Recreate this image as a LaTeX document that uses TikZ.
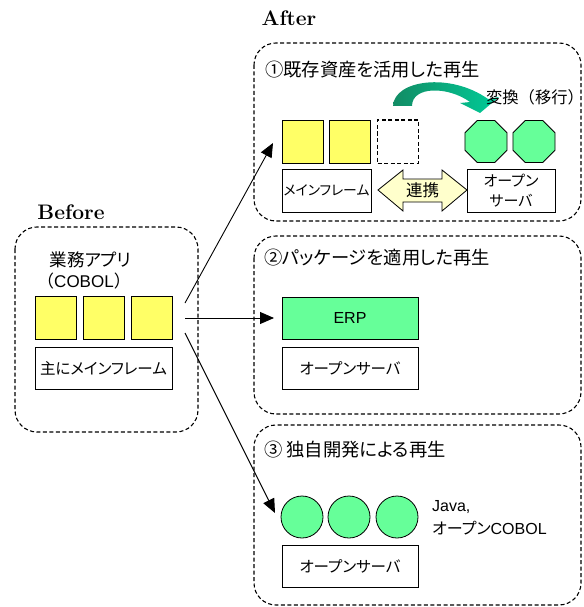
\documentclass[tikz,border=0pt]{standalone}
\usepackage{fontspec}
\usetikzlibrary{shapes.geometric,arrows.meta,shadings}
\newfontfamily\jp[RawFeature=+palt]{Noto Sans CJK JP}
\newfontfamily\jpf{Noto Sans CJK JP}
\newfontfamily\lat{Liberation Sans}
\definecolor{yel}{HTML}{FFFF66}
\definecolor{grn}{HTML}{66FF99}
\definecolor{pale}{HTML}{FFFFCC}
\definecolor{tealdk}{RGB}{18,140,100}
\definecolor{tealbr}{RGB}{0,204,153}
\tikzset{
  grp/.style={draw, line width=1.1pt, dash pattern=on 4pt off 2.5pt, rounded corners=22pt},
  ysq/.style={draw, line width=0.8pt, fill=yel, minimum width=41pt, minimum height=43pt, inner sep=0pt},
  dsq/.style={draw, line width=1pt, dash pattern=on 4pt off 2.5pt, minimum width=41pt, minimum height=43pt, inner sep=0pt},
  oct/.style={draw, line width=0.8pt, fill=grn, regular polygon, regular polygon sides=8, minimum size=45.5pt, inner sep=0pt},
  circ/.style={draw, line width=0.8pt, fill=grn, circle, minimum size=42pt, inner sep=0pt},
  wbox/.style={draw, line width=0.8pt, fill=white, inner sep=0pt, align=center, font=\jp\fontsize{15.5}{18}\selectfont},
  title/.style={font=\jp\fontsize{18.3}{21}\selectfont, inner sep=0pt, anchor=west},
  lbl/.style={font=\bfseries\fontsize{21}{24}\selectfont, inner sep=0pt},
  arr/.style={line width=0.9pt, -{Triangle[length=14pt,width=12pt]}},
}
\begin{document}
\begin{tikzpicture}[x=1pt,y=-1pt]
\useasboundingbox (0,0) rectangle (583,607);
% group frames
\draw[grp] (15,227) rectangle (198,432);
\draw[grp] (254,43) rectangle (581,221);
\draw[grp] (254,236) rectangle (581,414);
\draw[grp] (254,425) rectangle (581,605);
\node[lbl] (before) at (71,212) {Before};
\node[lbl] (after) at (289,18) {After};
% Before contents
\node[font=\jp\fontsize{17.5}{20}\selectfont, inner sep=0pt] (app) at (90.5,260) {業務アプリ};
\node[inner sep=0pt] (cobol) at (84,281) {\jpf\fontsize{17}{20}\selectfont （\lat COBOL\jpf ）};
\node[ysq] (b1) at (55.5,318) {};
\node[ysq] (b2) at (103.5,318) {};
\node[ysq] (b3) at (151.5,318) {};
\node[wbox, minimum width=137pt, minimum height=42pt] (bm) at (103.5,368) {主にメインフレーム};
% Box 1
\node[title] (t1) at (265,70) {①既存資産を活用した再生};
\node[ysq] (y1) at (302.5,141.5) {};
\node[ysq] (y2) at (349.5,141.5) {};
\node[dsq] (y3) at (398,141.5) {};
\node[oct] (o1) at (486,141.5) {};
\node[oct] (o2) at (534,141.5) {};
\node[wbox, minimum width=89pt, minimum height=43pt, font=\jp\fontsize{13.8}{17}\selectfont] (m1) at (326.5,190.5) {メインフレーム};
\node[wbox, minimum width=88pt, minimum height=43pt, font=\jp\fontsize{15}{19.5}\selectfont] (s1) at (511,190.5) {オープン\\サーバ};
\draw[line width=0.8pt, fill=pale] (378,190) -- (403,170) -- (403,179) -- (442,179) -- (442,170) -- (467,190) -- (442,211) -- (442,202) -- (403,202) -- (403,211) -- cycle;
\node[font=\jp\fontsize{16.5}{19}\selectfont, inner sep=0pt] (link) at (422.5,190) {連携};
\shade[left color=tealdk, right color=tealbr] (393,106) .. controls (394,80) and (450,72) .. (488,99) -- (499,97) -- (480,113) -- (460,103) -- (470,102) .. controls (448,86) and (412,86) .. (412,106) -- cycle;
\node[font=\jpf\fontsize{16.3}{19}\selectfont, inner sep=0pt] (conv) at (535,97) {変換（移行）};
% Box 2
\node[title] (t2) at (264,258) {②パッケージを適用した再生};
\node[wbox, fill=grn, minimum width=136pt, minimum height=42pt, font=\lat\fontsize{16}{19}\selectfont] (erp) at (350,318) {ERP};
\node[wbox, minimum width=136pt, minimum height=42pt] (s2) at (350,368) {オープンサーバ};
% Box 3
\node[title] (t3) at (264,450) {③ 独自開発による再生};
\node[circ] (c1) at (302,517) {};
\node[circ] (c2) at (349,517) {};
\node[circ] (c3) at (397,517) {};
\node[anchor=west, inner sep=0pt] (java) at (432,507) {\lat\fontsize{16}{19}\selectfont Java,};
\node[anchor=west, inner sep=0pt] (ocob) at (432,528) {\jp\fontsize{16}{19}\selectfont オープン\lat COBOL};
\node[wbox, minimum width=136pt, minimum height=42pt] (s3) at (350,566) {オープンサーバ};
% arrows
\coordinate (a1) at (185,303);
\coordinate (a2) at (185,318);
\coordinate (a3) at (185,333);
\coordinate (e1) at (273,143);
\coordinate (e2) at (274,318);
\coordinate (e3) at (275,513);
\draw[arr] (a1) -- (e1);
\draw[arr] (a2) -- (e2);
\draw[arr] (a3) -- (e3);
\end{tikzpicture}
\end{document}
